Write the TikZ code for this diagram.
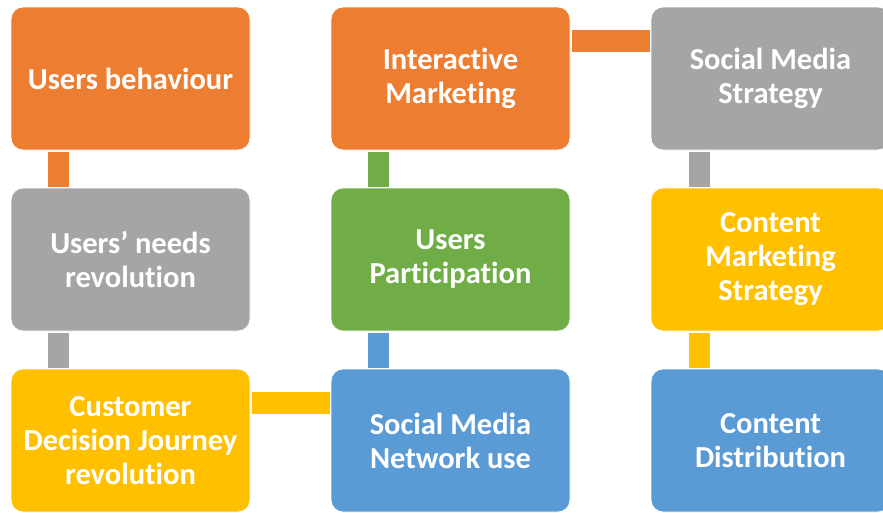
\documentclass[tikz,border=0pt]{standalone}
\usepackage{fontspec}
\setmainfont[Ligatures={NoCommon}]{Carlito}
\definecolor{cOrange}{HTML}{ED7D31}
\definecolor{cGray}{HTML}{A5A5A5}
\definecolor{cYellow}{HTML}{FFC000}
\definecolor{cBlue}{HTML}{5B9BD5}
\definecolor{cGreen}{HTML}{70AD47}
\begin{document}
\begin{tikzpicture}[x=1pt,y=-1pt,
  card/.style={fill=#1, draw=white, line width=0.8pt, rounded corners=12pt,
    anchor=north west, minimum width=239pt, minimum height=143pt,
    inner sep=0pt, outer sep=0pt, align=center, text=white,
    font=\fontsize{30.5}{34}\selectfont\bfseries},
  vbar/.style={draw=#1, line width=21pt, line cap=butt, shorten <=1.5pt, shorten >=1.5pt},
  hbar/.style={draw=#1, line width=22pt, line cap=butt, shorten <=1.5pt, shorten >=1.5pt}]
  \useasboundingbox (0,0) rectangle (883,512);
  \clip (0,0) rectangle (883,512);

  % first column
  \node[card=cOrange] (ub) at (11,7) {Users behaviour};
  \node[card=cGray] (un) at (11,188) {Users’ needs\\revolution};
  \node[card=cYellow] (cd) at (11,369) {Customer\\Decision Journey\\revolution};

  % second column
  \node[card=cOrange] (im) at (331,7) {Interactive\\Marketing};
  \node[card=cGreen] (up) at (331,188) {Users\\Participation};
  \node[card=cBlue] (sn) at (331,369) {Social Media\\Network use};

  % third column
  \node[card=cGray] (ss) at (651,7) {Social Media\\Strategy};
  \node[card=cYellow] (cm) at (651,188) {Content\\Marketing\\Strategy};
  \node[card=cBlue] (cdist) at (651,369) {Content\\Distribution};

  % vertical links
  \draw[vbar=cOrange] ([xshift=47.5pt]ub.south west) -- ([xshift=47.5pt]un.north west);
  \draw[vbar=cGray] ([xshift=47.5pt]un.south west) -- ([xshift=47.5pt]cd.north west);
  \draw[vbar=cGreen] ([xshift=47.5pt]im.south west) -- ([xshift=47.5pt]up.north west);
  \draw[vbar=cBlue] ([xshift=47.5pt]up.south west) -- ([xshift=47.5pt]sn.north west);
  \draw[vbar=cGray] ([xshift=48pt]ss.south west) -- ([xshift=48pt]cm.north west);
  \draw[vbar=cYellow] ([xshift=48pt]cm.south west) -- ([xshift=48pt]cdist.north west);

  % horizontal links
  \draw[hbar=cOrange] ([yshift=-34pt]im.north east) -- ([yshift=-34pt]ss.north west);
  \draw[hbar=cYellow] ([yshift=-34pt]cd.north east) -- ([yshift=-34pt]sn.north west);
\end{tikzpicture}
\end{document}
